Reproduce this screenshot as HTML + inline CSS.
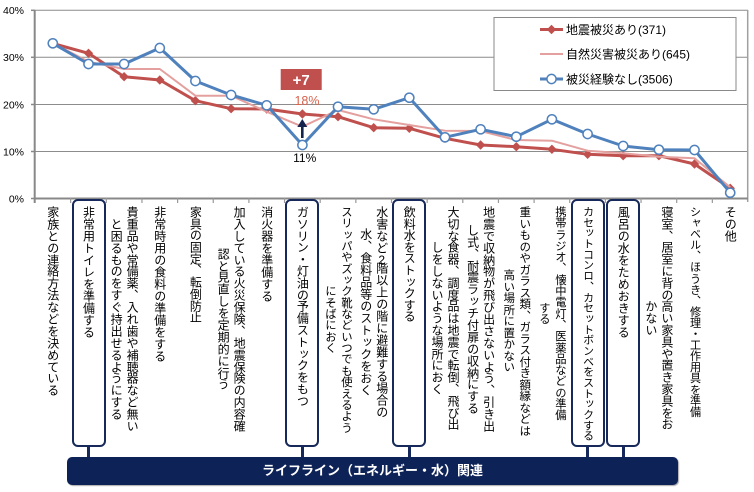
<!DOCTYPE html>
<html><head><meta charset="utf-8">
<style>
html,body{margin:0;padding:0;background:#fff;}
body{width:754px;height:492px;position:relative;overflow:hidden;font-family:"Liberation Sans","Noto Sans CJK JP",sans-serif;}
svg{position:absolute;left:0;top:0;}
.lb{position:absolute;top:206px;writing-mode:vertical-rl;text-align:center;white-space:nowrap;font-family:"Liberation Sans","Noto Sans CJK JP",sans-serif;font-size:12px;line-height:16px;color:#000;--p:11.9px;}
.lb i{display:inline-block;font-style:normal;height:var(--p);overflow:visible;}
.lb i.n{height:8px;text-combine-upright:all;}
.lb.c1{width:16px;}
.lb.c2{width:32px;}
.box{position:absolute;top:199px;height:248px;width:34px;box-sizing:border-box;border:2.5px solid #17295a;border-radius:6px;}
.con{position:absolute;top:446px;height:11px;width:2.5px;background:#17295a;}
.banner{position:absolute;left:67px;top:457px;width:611px;height:28px;background:#0d2257;border-radius:5px;color:#fff;font-family:"Liberation Sans","Noto Sans CJK JP",sans-serif;font-weight:bold;font-size:13px;line-height:28px;text-align:center;box-shadow:1px 1px 1px #aaa;}
</style></head>
<body>
<svg width="754" height="492" viewBox="0 0 754 492" xmlns="http://www.w3.org/2000/svg">
<defs>
<polygon id="dm" points="0,-4.7 4.7,0 0,4.7 -4.7,0" fill="#C0504D"/>
</defs>
<g stroke="#8c8c8c" stroke-width="1">
<line x1="35" y1="10.3" x2="748" y2="10.3"/>
<line x1="35" y1="57.3" x2="748" y2="57.3"/>
<line x1="35" y1="104.5" x2="748" y2="104.5"/>
<line x1="35" y1="151.5" x2="748" y2="151.5"/>
</g>
<g stroke="#888" stroke-width="1.5">
<line x1="31" y1="10.3" x2="35" y2="10.3"/>
<line x1="31" y1="57.3" x2="35" y2="57.3"/>
<line x1="31" y1="104.5" x2="35" y2="104.5"/>
<line x1="31" y1="151.5" x2="35" y2="151.5"/>
<line x1="31" y1="198.5" x2="35" y2="198.5"/>
</g>
<line x1="747.7" y1="10" x2="747.7" y2="202" stroke="#a0a0a0" stroke-width="1.5"/>
<line x1="34.7" y1="10" x2="34.7" y2="203" stroke="#888" stroke-width="2"/>
<line x1="34" y1="198.5" x2="748" y2="198.5" stroke="#888" stroke-width="2"/>
<g stroke="#999" stroke-width="1.2">
<line x1="70.65" y1="198" x2="70.65" y2="203"/>
<line x1="106.3" y1="198" x2="106.3" y2="203"/>
<line x1="141.95" y1="198" x2="141.95" y2="203"/>
<line x1="177.6" y1="198" x2="177.6" y2="203"/>
<line x1="213.25" y1="198" x2="213.25" y2="203"/>
<line x1="248.9" y1="198" x2="248.9" y2="203"/>
<line x1="284.55" y1="198" x2="284.55" y2="203"/>
<line x1="320.2" y1="198" x2="320.2" y2="203"/>
<line x1="355.85" y1="198" x2="355.85" y2="203"/>
<line x1="391.5" y1="198" x2="391.5" y2="203"/>
<line x1="427.15" y1="198" x2="427.15" y2="203"/>
<line x1="462.8" y1="198" x2="462.8" y2="203"/>
<line x1="498.45" y1="198" x2="498.45" y2="203"/>
<line x1="534.1" y1="198" x2="534.1" y2="203"/>
<line x1="569.75" y1="198" x2="569.75" y2="203"/>
<line x1="605.4" y1="198" x2="605.4" y2="203"/>
<line x1="641.05" y1="198" x2="641.05" y2="203"/>
<line x1="676.7" y1="198" x2="676.7" y2="203"/>
<line x1="712.35" y1="198" x2="712.35" y2="203"/>
</g>
<g font-family="Liberation Sans, sans-serif" font-size="10.5" fill="#000" text-anchor="end">
<text x="24" y="14.2">40%</text>
<text x="24" y="61.2">30%</text>
<text x="24" y="108.4">20%</text>
<text x="24" y="155.4">10%</text>
<text x="24" y="202.4">0%</text>
</g>

<polyline fill="none" stroke="#C0504D" stroke-width="3" stroke-linejoin="round" points="52.8,43.5 88.5,53.3 124.1,76.7 159.8,80 195.4,100.7 231.1,108.7 266.7,109 302.4,114 338.0,116.7 373.7,127.7 409.3,128.3 445.0,138.3 480.6,145 516.3,146.7 551.9,149.3 587.6,154.3 623.2,155.7 658.9,155.7 694.5,164 730.2,188.3"/>
<g>
<use href="#dm" x="52.8" y="43.5"/><use href="#dm" x="88.5" y="53.3"/><use href="#dm" x="124.1" y="76.7"/><use href="#dm" x="159.8" y="80"/><use href="#dm" x="195.4" y="100.7"/><use href="#dm" x="231.1" y="108.7"/><use href="#dm" x="266.7" y="109"/><use href="#dm" x="302.4" y="114"/><use href="#dm" x="338.0" y="116.7"/><use href="#dm" x="373.7" y="127.7"/><use href="#dm" x="409.3" y="128.3"/><use href="#dm" x="445.0" y="138.3"/><use href="#dm" x="480.6" y="145"/><use href="#dm" x="516.3" y="146.7"/><use href="#dm" x="551.9" y="149.3"/><use href="#dm" x="587.6" y="154.3"/><use href="#dm" x="623.2" y="155.7"/><use href="#dm" x="658.9" y="155.7"/><use href="#dm" x="694.5" y="164"/><use href="#dm" x="730.2" y="188.3"/>
</g>
<polyline fill="none" stroke="#E3A09E" stroke-width="2" stroke-linejoin="round" points="52.8,43.3 88.5,61.7 124.1,69 159.8,69 195.4,95.7 231.1,95.7 266.7,111.7 302.4,126.7 338.0,110 373.7,119.3 409.3,125 445.0,130.7 480.6,131 516.3,140 551.9,140.7 587.6,150.7 623.2,153.3 658.9,156.7 694.5,158.3 730.2,187.3"/>
<polyline fill="none" stroke="#4F81BD" stroke-width="3" stroke-linejoin="round" points="52.8,43.3 88.5,64 124.1,64 159.8,48 195.4,81 231.1,95 266.7,105.3 302.4,145 338.0,106.7 373.7,109.3 409.3,97.7 445.0,137.3 480.6,129.3 516.3,136.7 551.9,119.3 587.6,134 623.2,146 658.9,149.7 694.5,150 730.2,192.7"/>
<g fill="#fff" stroke="#4F81BD" stroke-width="1.5">
<circle cx="52.8" cy="43.3" r="4.6"/><circle cx="88.5" cy="64" r="4.6"/><circle cx="124.1" cy="64" r="4.6"/><circle cx="159.8" cy="48" r="4.6"/><circle cx="195.4" cy="81" r="4.6"/><circle cx="231.1" cy="95" r="4.6"/><circle cx="266.7" cy="105.3" r="4.6"/><circle cx="302.4" cy="145" r="4.6"/><circle cx="338.0" cy="106.7" r="4.6"/><circle cx="373.7" cy="109.3" r="4.6"/><circle cx="409.3" cy="97.7" r="4.6"/><circle cx="445.0" cy="137.3" r="4.6"/><circle cx="480.6" cy="129.3" r="4.6"/><circle cx="516.3" cy="136.7" r="4.6"/><circle cx="551.9" cy="119.3" r="4.6"/><circle cx="587.6" cy="134" r="4.6"/><circle cx="623.2" cy="146" r="4.6"/><circle cx="658.9" cy="149.7" r="4.6"/><circle cx="694.5" cy="150" r="4.6"/><circle cx="730.2" cy="192.7" r="4.6"/>
</g>

<rect x="280.7" y="69" width="41" height="21" fill="#C0504D"/>
<text x="301.2" y="85" font-family="Liberation Sans, sans-serif" font-size="15" font-weight="bold" fill="#fff" text-anchor="middle">+7</text>
<text x="307" y="105" font-family="Liberation Sans, sans-serif" font-size="12.5" fill="#D8644F" text-anchor="middle">18%</text>
<line x1="302.3" y1="138" x2="302.3" y2="124" stroke="#14244F" stroke-width="2.6"/>
<polygon points="297.3,127 302.3,119 307.3,127" fill="#14244F"/>
<text x="304.7" y="162" font-family="Liberation Sans, sans-serif" font-size="12" fill="#000" text-anchor="middle">11%</text>

<rect x="494" y="17.5" width="242" height="73" fill="#fff" stroke="#8a8a8a" stroke-width="1"/>
<line x1="540" y1="29.5" x2="563" y2="29.5" stroke="#C0504D" stroke-width="3"/>
<use href="#dm" x="551.5" y="29.5"/>
<line x1="540" y1="54" x2="563" y2="54" stroke="#E3A09E" stroke-width="2"/>
<line x1="540" y1="79" x2="563" y2="79" stroke="#4F81BD" stroke-width="3"/>
<circle cx="551.5" cy="79" r="4.6" fill="#fff" stroke="#4F81BD" stroke-width="1.5"/>
<g font-family="Liberation Sans, Noto Sans CJK JP, sans-serif" font-size="12" fill="#000">
<text x="566" y="34">地震被災あり(371)</text>
<text x="566" y="58.5">自然災害被災あり(645)</text>
<text x="566" y="83.5">被災経験なし(3506)</text>
</g>
</svg>

<div class="box" style="left:71.5px"></div>
<div class="box" style="left:285.4px"></div>
<div class="box" style="left:392.3px"></div>
<div class="box" style="left:570.6px"></div>
<div class="box" style="left:606.2px"></div>
<div class="con" style="left:87.3px"></div>
<div class="con" style="left:301.2px"></div>
<div class="con" style="left:408.1px"></div>
<div class="con" style="left:586.4px"></div>
<div class="con" style="left:622px"></div>

<div class="lb c1" style="left:44.8px;--p:11.9px"><i>家</i><i>族</i><i>と</i><i>の</i><i>連</i><i>絡</i><i>方</i><i>法</i><i>な</i><i>ど</i><i>を</i><i>決</i><i>め</i><i>て</i><i>い</i><i>る</i></div>
<div class="lb c1" style="left:80.5px;--p:12px"><i>非</i><i>常</i><i>用</i><i>ト</i><i>イ</i><i>レ</i><i>を</i><i>準</i><i>備</i><i>す</i><i>る</i></div>
<div class="lb c2" style="left:108.1px;--p:11.9px"><i>貴</i><i>重</i><i>品</i><i>や</i><i>常</i><i>備</i><i>薬</i><i>、</i><i>入</i><i>れ</i><i>歯</i><i>や</i><i>補</i><i>聴</i><i>器</i><i>な</i><i>ど</i><i>無</i><i>い</i><br><i>と</i><i>困</i><i>る</i><i>も</i><i>の</i><i>を</i><i>す</i><i>ぐ</i><i>持</i><i>出</i><i>せ</i><i>る</i><i>よ</i><i>う</i><i>に</i><i>す</i><i>る</i></div>
<div class="lb c1" style="left:151.8px;--p:12px"><i>非</i><i>常</i><i>時</i><i>用</i><i>の</i><i>食</i><i>料</i><i>の</i><i>準</i><i>備</i><i>を</i><i>す</i><i>る</i></div>
<div class="lb c1" style="left:187.4px;--p:11.7px"><i>家</i><i>具</i><i>の</i><i>固</i><i>定</i><i>、</i><i>転</i><i>倒</i><i>防</i><i>止</i></div>
<div class="lb c2" style="left:215.1px;--p:11.9px"><i>加</i><i>入</i><i>し</i><i>て</i><i>い</i><i>る</i><i>火</i><i>災</i><i>保</i><i>険</i><i>、</i><i>地</i><i>震</i><i>保</i><i>険</i><i>の</i><i>内</i><i>容</i><i>確</i><br><i>認</i><i>と</i><i>見</i><i>直</i><i>し</i><i>を</i><i>定</i><i>期</i><i>的</i><i>に</i><i>行</i><i>う</i></div>
<div class="lb c1" style="left:258.7px;--p:12px"><i>消</i><i>火</i><i>器</i><i>を</i><i>準</i><i>備</i><i>す</i><i>る</i></div>
<div class="lb c1" style="left:294.4px;--p:11.8px"><i>ガ</i><i>ソ</i><i>リ</i><i>ン</i><i>・</i><i>灯</i><i>油</i><i>の</i><i>予</i><i>備</i><i>ス</i><i>ト</i><i>ッ</i><i>ク</i><i>を</i><i>も</i><i>つ</i></div>
<div class="lb c2" style="left:322px;--p:11.35px;font-size:11.4px"><i>ス</i><i>リ</i><i>ッ</i><i>パ</i><i>や</i><i>ズ</i><i>ッ</i><i>ク</i><i>靴</i><i>な</i><i>ど</i><i>い</i><i>つ</i><i>で</i><i>も</i><i>使</i><i>え</i><i>る</i><i>よ</i><i>う</i><br><i>に</i><i>そ</i><i>ば</i><i>に</i><i>お</i><i>く</i></div>
<div class="lb c2" style="left:357.7px;--p:12px"><i>水</i><i>害</i><i>な</i><i>ど</i><i class="n">2</i><i>階</i><i>以</i><i>上</i><i>の</i><i>階</i><i>に</i><i>避</i><i>難</i><i>す</i><i>る</i><i>場</i><i>合</i><i>の</i><br><i>水</i><i>、</i><i>食</i><i>料</i><i>品</i><i>等</i><i>の</i><i>ス</i><i>ト</i><i>ッ</i><i>ク</i><i>を</i><i>お</i><i>く</i></div>
<div class="lb c1" style="left:401.3px;--p:11.6px"><i>飲</i><i>料</i><i>水</i><i>を</i><i>ス</i><i>ト</i><i>ッ</i><i>ク</i><i>す</i><i>る</i></div>
<div class="lb c2" style="left:429px;--p:11.8px"><i>大</i><i>切</i><i>な</i><i>食</i><i>器</i><i>、</i><i>調</i><i>度</i><i>品</i><i>は</i><i>地</i><i>震</i><i>で</i><i>転</i><i>倒</i><i>、</i><i>飛</i><i>び</i><i>出</i><br><i>し</i><i>を</i><i>し</i><i>な</i><i>い</i><i>よ</i><i>う</i><i>な</i><i>場</i><i>所</i><i>に</i><i>お</i><i>く</i></div>
<div class="lb c2" style="left:464.6px;--p:11.9px"><i>地</i><i>震</i><i>で</i><i>収</i><i>納</i><i>物</i><i>が</i><i>飛</i><i>び</i><i>出</i><i>さ</i><i>な</i><i>い</i><i>よ</i><i>う</i><i>、</i><i>引</i><i>き</i><i>出</i><br><i>し</i><i>式</i><i>、</i><i>耐</i><i>震</i><i>ラ</i><i>ッ</i><i>チ</i><i>付</i><i>扉</i><i>の</i><i>収</i><i>納</i><i>に</i><i>す</i><i>る</i></div>
<div class="lb c2" style="left:500.3px;--p:11.5px;font-size:11.5px"><i>重</i><i>い</i><i>も</i><i>の</i><i>や</i><i>ガ</i><i>ラ</i><i>ス</i><i>類</i><i>、</i><i>ガ</i><i>ラ</i><i>ス</i><i>付</i><i>き</i><i>額</i><i>縁</i><i>な</i><i>ど</i><i>は</i><br><i>高</i><i>い</i><i>場</i><i>所</i><i>に</i><i>置</i><i>か</i><i>な</i><i>い</i></div>
<div class="lb c2" style="left:535.9px;--p:11.3px;font-size:11.3px"><i>携</i><i>帯</i><i>ラ</i><i>ジ</i><i>オ</i><i>、</i><i>懐</i><i>中</i><i>電</i><i>灯</i><i>、</i><i>医</i><i>薬</i><i>品</i><i>な</i><i>ど</i><i>の</i><i>準</i><i>備</i><br><i>す</i><i>る</i></div>
<div class="lb c1" style="left:579.6px;--p:10.7px;font-size:11px"><i>カ</i><i>セ</i><i>ッ</i><i>ト</i><i>コ</i><i>ン</i><i>ロ</i><i>、</i><i>カ</i><i>セ</i><i>ッ</i><i>ト</i><i>ボ</i><i>ン</i><i>ベ</i><i>を</i><i>ス</i><i>ト</i><i>ッ</i><i>ク</i><i>す</i><i>る</i></div>
<div class="lb c1" style="left:615.2px;--p:12px"><i>風</i><i>呂</i><i>の</i><i>水</i><i>を</i><i>た</i><i>め</i><i>お</i><i>き</i><i>す</i><i>る</i></div>
<div class="lb c2" style="left:642.9px;--p:11.8px"><i>寝</i><i>室</i><i>、</i><i>居</i><i>室</i><i>に</i><i>背</i><i>の</i><i>高</i><i>い</i><i>家</i><i>具</i><i>や</i><i>置</i><i>き</i><i>家</i><i>具</i><i>を</i><i>お</i><br><i>か</i><i>な</i><i>い</i></div>
<div class="lb c1" style="left:686.5px;--p:11.1px;font-size:11.1px"><i>シ</i><i>ャ</i><i>ベ</i><i>ル</i><i>、</i><i>ほ</i><i>う</i><i>き</i><i>、</i><i>修</i><i>理</i><i>・</i><i>工</i><i>作</i><i>用</i><i>具</i><i>を</i><i>準</i><i>備</i></div>
<div class="lb c1" style="left:722.2px;--p:12px"><i>そ</i><i>の</i><i>他</i></div>

<div class="banner">ライフライン（エネルギー・水）関連</div>
</body></html>
